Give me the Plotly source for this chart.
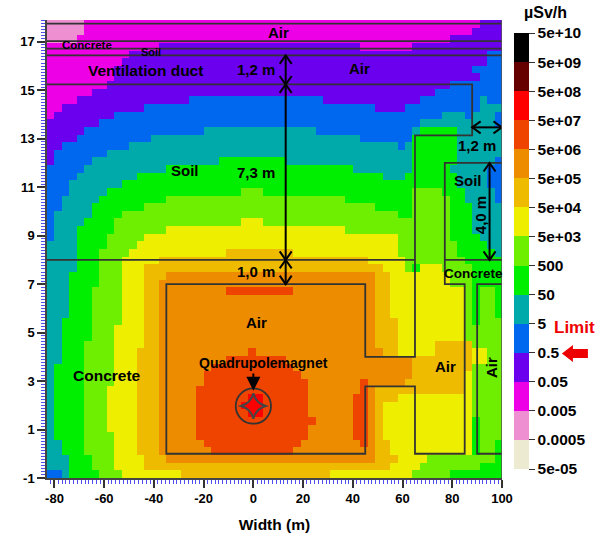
import plotly.graph_objects as go

W, H = 596, 536
L, R, T, B = 46.5, 502.0, 19.7, 478.0

BAND_COLORS = ["#ECEBD2", "#EE8FD2", "#EE00E6", "#6A00EE", "#0068EE", "#00AAAA", "#00EE00",
               "#6EEE00", "#EEEE00", "#EEBB00", "#EE8C00", "#EE4400", "#FF0000", "#660000", "#000000"]
BAND_TICKS = ["5e-05", "0.0005", "0.005", "0.05", "0.5", "5", "50", "500", "5e+03", "5e+04",
              "5e+05", "5e+06", "5e+07", "5e+08", "5e+09", "5e+10"]
X_TICKS = [-80, -60, -40, -20, 0, 20, 40, 60, 80, 100]
Y_TICKS = [-1, 1, 3, 5, 7, 9, 11, 13, 15, 17]

X_START, X_STEP, N_COLS = -83.0, 3.0, 61
Y_START, Y_STEP, N_ROWS = -1.0, 0.315, 60

# dose band per grid row (top row first), written as band:end-column runs
ROW_RUNS = [
    "1:5 2:58 3:61",
    "1:5 2:57 3:61",
    "1:4 2:54 3:61",
    "2:15 3:42 2:49 3:61",
    "2:11 3:59 4:61",
    "2:10 3:59 4:61",
    "2:9 3:57 4:61",
    "2:9 3:58 4:61",
    "2:8 3:54 4:61",
    "2:6 3:52 4:61",
    "2:4 3:19 4:37 3:50 4:58 5:59 4:61",
    "2:2 3:13 4:44 3:48 4:58 5:61",
    "2:1 3:9 4:53 5:56 4:57 5:60 4:61",
    "3:7 4:50 5:60 4:61",
    "3:5 4:21 5:36 4:49 5:50 6:55 5:61",
    "3:4 4:14 5:42 4:49 6:55 5:61",
    "3:2 4:11 5:47 4:48 5:49 6:55 5:61",
    "3:1 4:8 5:49 6:55 5:61",
    "3:1 4:6 5:23 6:32 5:49 6:55 5:60 4:61",
    "4:5 5:16 6:41 5:49 6:54 5:59 4:61",
    "4:4 5:12 6:45 5:48 6:55 5:59 4:61",
    "4:3 5:10 6:55 5:59 4:61",
    "4:3 5:8 6:26 7:29 6:49 7:53 6:56 5:60 4:61",
    "4:2 5:7 6:16 7:40 6:49 7:54 6:56 5:60 4:61",
    "4:2 5:6 6:13 7:44 6:49 7:54 6:57 5:61",
    "4:1 5:6 6:10 7:47 6:49 7:54 6:57 5:61",
    "4:1 5:5 6:9 7:26 8:29 7:54 6:57 5:61",
    "4:1 5:4 6:9 7:16 8:40 7:54 6:57 5:61",
    "4:1 5:4 6:8 7:13 8:47 7:54 6:58 5:61",
    "5:4 6:8 7:12 8:47 7:55 6:59 5:61",
    "5:4 6:7 7:11 8:24 9:33 8:47 7:55 6:60 5:61",
    "5:4 6:7 7:10 8:15 9:43 8:48 7:56 6:61",
    "5:4 6:7 7:10 8:13 9:45 8:48 7:49 6:50 8:53 7:57 6:61",
    "5:3 6:7 7:10 8:13 9:16 10:44 9:46 8:54 7:57 6:61",
    "5:3 6:7 7:10 8:13 9:15 10:44 9:46 8:54 7:57 6:61",
    "5:3 6:6 7:10 8:13 9:15 10:24 11:33 10:44 9:46 8:56 7:57 6:58 7:60 6:61",
    "5:3 6:6 7:10 8:13 9:15 10:44 9:46 8:56 7:57 6:58 7:60 6:61",
    "5:3 6:6 7:10 8:13 9:15 10:44 9:46 8:56 7:57 6:58 7:60 6:61",
    "5:3 6:6 7:10 8:13 9:15 10:44 9:46 8:56 7:57 6:58 7:60 6:61",
    "5:2 6:6 7:10 8:13 9:15 10:44 9:47 8:56 7:57 6:58 7:61",
    "5:2 6:6 7:9 8:13 9:15 10:44 9:47 8:56 7:61",
    "5:2 6:6 7:9 8:13 9:15 10:44 9:47 8:56 7:61",
    "5:2 6:5 7:9 8:13 9:15 10:44 9:47 8:52 9:57 7:61",
    "5:2 6:5 7:9 8:12 9:15 10:27 11:28 10:45 9:47 8:52 9:57 8:59 7:61",
    "5:2 6:5 7:9 8:12 9:15 10:24 11:32 10:49 9:57 8:59 7:61",
    "5:1 6:5 7:9 8:12 9:15 10:22 11:33 10:49 9:57 7:61",
    "5:1 6:5 7:9 8:12 9:15 10:21 11:34 10:49 9:56 8:57 7:61",
    "5:1 6:5 7:9 8:12 9:15 10:21 11:35 10:42 11:43 10:48 9:56 8:57 7:61",
    "5:1 6:5 7:8 8:12 9:15 10:20 11:35 10:42 11:43 10:44 9:56 8:57 7:61",
    "5:1 6:5 7:8 8:12 9:15 10:20 11:27 12:29 11:35 10:41 11:43 10:44 9:47 8:57 7:61",
    "5:1 6:5 7:8 8:12 9:15 10:20 11:26 12:29 11:35 10:41 11:43 10:44 9:45 8:57 7:61",
    "5:1 6:5 7:8 8:12 9:15 10:20 11:27 12:29 11:35 10:41 11:43 10:44 9:45 8:57 7:61",
    "5:1 6:5 7:8 8:12 9:15 10:20 11:36 10:41 11:43 10:44 9:45 8:57 6:58 7:61",
    "5:1 6:5 7:8 8:12 9:15 10:20 11:35 10:41 11:43 10:44 9:45 8:57 6:58 7:61",
    "5:1 6:5 7:9 8:12 9:15 10:20 11:35 10:41 11:43 10:44 9:45 8:57 6:58 7:61",
    "5:2 6:5 7:9 8:12 9:15 10:21 11:34 10:42 11:43 10:44 9:46 8:57 6:58 7:60 6:61",
    "5:2 6:5 7:9 8:12 9:15 10:22 11:33 10:44 9:46 8:57 6:58 7:60 6:61",
    "5:3 6:6 7:9 8:13 9:16 10:44 9:47 8:51 7:60 6:61",
    "5:3 6:6 7:9 8:13 9:46 8:50 7:58 6:61",
    "4:2 5:3 6:7 7:10 8:18 9:38 8:49 7:54 6:61",
]

# building outlines, metres / height
WALLS = [
    ([-83, 100], [17.75, 17.75]), ([-83, 100], [17.03, 17.03]),
    ([-83, 100], [16.72, 16.72]), ([-83, 100], [16.44, 16.44]),
    ([-83, 88, 88, 65, 65, 45, 45, -35, -35, 45, 45, 65, 65, 85, 85, 77, 77, 100],
     [15.24, 15.24, 13.14, 13.14, 4, 4, 7, 7, 0, 0, 2.78, 2.78, 0, 0, 7, 7, 12, 12]),
    ([-83, 65], [8, 8]), ([77, 100], [8, 8]),
    ([100, 90, 90, 100], [7, 7, 0, 0]),
]
DIM_V = [(13, 16.44, 15.24), (13, 15.24, 8), (13, 8, 7), (95, 12, 8)]
DIM_H = [(88, 100, 13.47)]

LABELS = [
    ("Air", 278, 32, 15, 0, "black"), ("Concrete", 87, 45, 11.5, 0, "black"),
    ("Soil", 151, 51.5, 11, 0, "black"), ("Ventilation duct", 145, 70, 15.5, 0, "black"),
    ("1,2 m", 256, 69, 15, 0, "black"), ("Air", 359, 68, 15, 0, "black"),
    ("7,3 m", 256, 172, 15, 0, "black"), ("Soil", 185, 170, 15, 0, "black"),
    ("1,0 m", 256, 271, 15, 0, "black"), ("1,2 m", 477, 145, 15, 0, "black"),
    ("Soil", 468, 180, 15, 0, "black"), ("4,0 m", 480, 215, 15, -90, "black"),
    ("Concrete", 473, 273, 13.5, 0, "black"), ("Air", 256, 322, 15, 0, "black"),
    ("Quadrupolemagnet", 263, 363, 14, 0, "black"), ("Concrete", 107, 375, 15.5, 0, "black"),
    ("Air", 445, 366, 15, 0, "black"), ("Air", 491, 368, 15, -90, "black"),
    ("Limit", 575, 327, 17, 0, "#EE0000"), ("µSv/h", 546, 12, 16, 0, "black"),
]


def parse(row):
    out, start = [], 0
    for run in row.split():
        band, end = run.split(":")
        out += [int(band) + 0.5] * (int(end) - start)
        start = int(end)
    assert start == N_COLS, row
    return out


z = [parse(r) for r in reversed(ROW_RUNS)]
x_edges = [X_START + X_STEP * i for i in range(N_COLS + 1)]
y_edges = [Y_START + Y_STEP * j for j in range(N_ROWS + 1)]
FONT = "Liberation Sans"

colorscale = []
n = len(BAND_COLORS)
for i, c in enumerate(BAND_COLORS):
    colorscale += [[i / n, c], [(i + 1) / n, c]]

fig = go.Figure(go.Heatmap(
    z=z, x=x_edges, y=y_edges, zmin=0, zmax=n, colorscale=colorscale, hoverinfo="skip",
    colorbar=dict(
        x=(514 - L) / (R - L), xanchor="left", xpad=0, ypad=0, thickness=15,
        lenmode="pixels", len=436, yanchor="bottom", y=(B - 469) / (B - T),
        outlinewidth=0, tickmode="array", tickvals=list(range(n + 1)), ticktext=BAND_TICKS,
        ticks="outside", ticklen=6, tickwidth=1, tickcolor="#333",
        tickfont=dict(family=FONT, size=15.5, color="black", weight="bold"),
    ),
))

shapes = []
line = dict(color="#333333", width=1.8)
for xs, ys in WALLS:
    shapes.append(dict(type="path", xref="x", yref="y", line=line,
                       path="M" + " L".join(f"{a} {b}" for a, b in zip(xs, ys))))

# beam pipe and quadrupole pole outline
shapes.append(dict(type="circle", xref="x", yref="y", line=line, x0=-7.1, x1=7.1, y0=1.24, y1=2.7))
shapes.append(dict(type="path", xref="x", yref="y", line=dict(color="#444444", width=2),
                   path="M 5.0 1.97 Q 0.9 2.1 0 2.5 Q -0.9 2.1 -5.0 1.97 "
                        "Q -0.9 1.85 0 1.44 Q 0.9 1.85 5.0 1.97 Z"))

PX_X, PX_Y = (R - L) / 183.0, (B - T) / 18.9
HEAD_W, HEAD_L = 6.0, 8.5
arrow = dict(color="black", width=2)
for x, y0, y1 in DIM_V:
    hw, hl = HEAD_W / PX_X, HEAD_L / PX_Y
    shapes.append(dict(type="line", xref="x", yref="y", x0=x, x1=x, y0=y0, y1=y1, line=arrow))
    sgn = 1 if y1 > y0 else -1
    for tip, d in ((y0, sgn), (y1, -sgn)):
        shapes.append(dict(type="path", xref="x", yref="y", line=arrow,
                           path=f"M {x - hw} {tip + d * hl} L {x} {tip} L {x + hw} {tip + d * hl}"))
for x0, x1, y in DIM_H:
    hw, hl = HEAD_L / PX_X, HEAD_W / PX_Y
    shapes.append(dict(type="line", xref="x", yref="y", x0=x0, x1=x1, y0=y, y1=y, line=arrow))
    for tip, d in ((x0, 1), (x1, -1)):
        shapes.append(dict(type="path", xref="x", yref="y", line=arrow,
                           path=f"M {tip + d * hw} {y - hl} L {tip} {y} L {tip + d * hw} {y + hl}"))


def px(xp):
    return (xp - L) / (R - L)


def py(yp):
    return (B - yp) / (B - T)


# red limit marker beside the colour bar
shapes.append(dict(type="path", xref="paper", yref="paper", fillcolor="#EE0000", line=dict(width=0),
                   path=f"M {px(562)} {py(353.5)} L {px(573)} {py(345)} L {px(573)} {py(349)} "
                        f"L {px(588)} {py(349)} L {px(588)} {py(358)} L {px(573)} {py(358)} "
                        f"L {px(573)} {py(362)} Z"))
# right-hand frame
shapes.append(dict(type="line", xref="x", yref="paper", x0=100, x1=100, y0=0, y1=1,
                   line=dict(color="#555555", width=1.5)))

annotations = [dict(text=t, x=px(a), y=py(b), xref="paper", yref="paper", showarrow=False,
                    textangle=ang, xanchor="center", yanchor="middle",
                    font=dict(family=FONT, size=s, color=c, weight="bold"))
               for t, a, b, s, ang, c in LABELS]
annotations.append(dict(x=0, y=2.6, ax=0, ay=3.37, axref="x", ayref="y", xref="x", yref="y",
                        showarrow=True, arrowhead=2, arrowsize=1.4, arrowwidth=2, arrowcolor="black",
                        text="", standoff=0))

tick_font = dict(family=FONT, size=13, color="black", weight="bold")
minor = dict(ticks="outside", ticklen=4, tickwidth=1, tickcolor="#5050F0")

fig.update_layout(
    width=W, height=H, margin=dict(l=L, r=W - R, t=T, b=H - B, pad=0, autoexpand=False),
    paper_bgcolor="white", plot_bgcolor="white", shapes=shapes, annotations=annotations,
    xaxis=dict(range=[-83, 100], tickmode="array", tickvals=X_TICKS, ticktext=[str(v) for v in X_TICKS],
               ticks="outside", ticklen=8, tickwidth=1.5, tickcolor="#333", showgrid=False, zeroline=False,
               showline=True, linecolor="#444", linewidth=1.5, tickfont=tick_font,
               title=dict(text="Width (m)", standoff=14, font=dict(family=FONT, size=15.5, color="black", weight="bold")),
               minor=dict(tick0=-80, dtick=20 / 13, **minor)),
    yaxis=dict(range=[-1, 17.9], tickmode="array", tickvals=Y_TICKS, ticktext=[str(v) for v in Y_TICKS],
               ticks="outside", ticklen=8, tickwidth=1.5, tickcolor="#333", showgrid=False, zeroline=False,
               showline=True, linecolor="#444", linewidth=1.5, tickfont=tick_font,
               minor=dict(tick0=-1, dtick=0.125, **minor)),
)

fig.write_html("out.html", config={"displayModeBar": False},
               post_script="document.body.style.margin='0';document.documentElement.style.overflow='hidden';")
